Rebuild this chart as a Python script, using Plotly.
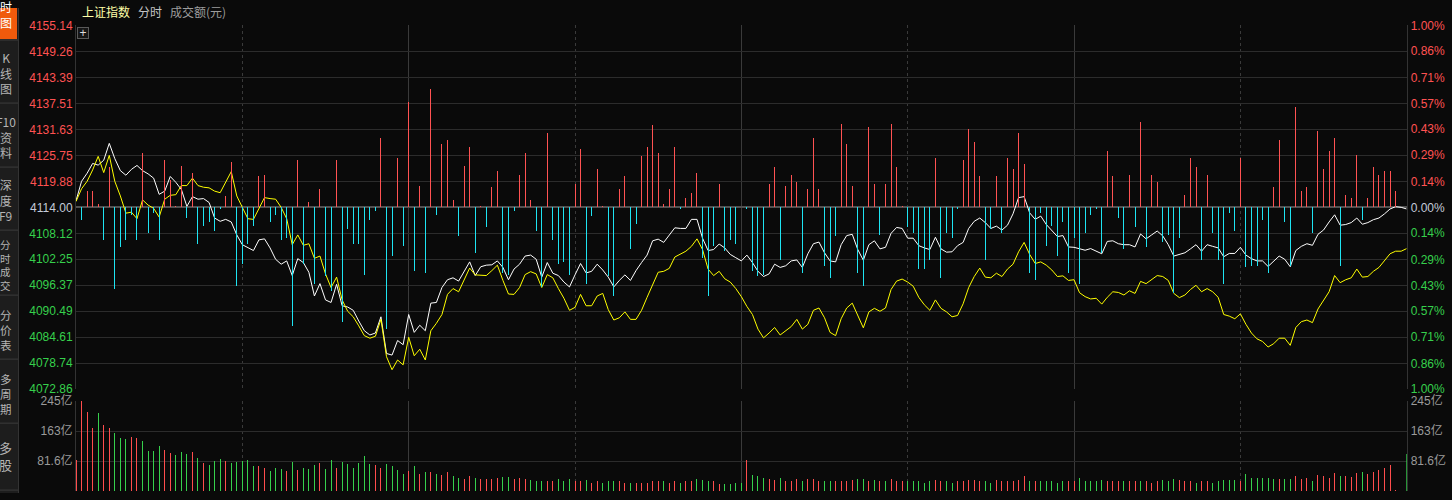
import plotly.graph_objects as go

# ---------------- data ----------------
minutes = list(range(241))          # 9:30 ... 11:30/13:00 ... 15:00
prev_close = 4114.00

index_price = [
    4115.47, 4119.88, 4121.71, 4123.92, 4123.55, 4124.65, 4128.47, 4125.02, 4122.30, 4121.27,
    4122.59, 4123.48, 4122.30, 4121.57, 4120.61, 4116.94, 4117.67, 4120.98, 4119.66, 4118.04,
    4114.22, 4116.42, 4115.84, 4115.98, 4115.10, 4111.58, 4110.84, 4111.28, 4110.69, 4107.76,
    4105.55, 4104.82, 4104.23, 4106.65, 4106.87, 4104.82, 4102.25, 4101.14, 4101.88, 4098.57,
    4102.39, 4101.51, 4099.31, 4093.95, 4096.74, 4093.06, 4092.48, 4096.59, 4091.74, 4091.45,
    4090.71, 4088.29, 4086.09, 4085.13, 4085.57, 4089.24, 4080.94, 4080.58, 4083.88, 4082.93,
    4089.76, 4085.72, 4087.33, 4086.09, 4092.33, 4092.48, 4095.86, 4097.62, 4098.06, 4097.32,
    4099.53, 4101.66, 4098.57, 4100.56, 4100.92, 4101.00, 4101.88, 4100.41, 4097.62, 4100.04,
    4101.14, 4102.98, 4103.20, 4102.25, 4098.21, 4101.51, 4099.09, 4098.57, 4097.10, 4096.00,
    4098.72, 4101.29, 4099.16, 4099.53, 4101.14, 4099.82, 4098.21, 4096.00, 4097.47, 4098.72,
    4097.47, 4099.68, 4101.51, 4103.20, 4106.43, 4106.80, 4106.07, 4107.61, 4109.37, 4109.23,
    4109.23, 4111.28, 4111.28, 4107.02, 4104.23, 4104.45, 4105.70, 4104.82, 4103.35, 4102.61,
    4101.88, 4103.20, 4101.51, 4099.53, 4098.35, 4098.94, 4101.14, 4100.41, 4100.78, 4101.88,
    4102.10, 4100.41, 4103.50, 4105.77, 4106.14, 4103.72, 4101.88, 4101.66, 4105.55, 4107.61,
    4107.90, 4104.45, 4102.03, 4105.55, 4106.43, 4104.60, 4104.96, 4108.12, 4109.45, 4109.23,
    4107.02, 4107.02, 4105.33, 4104.82, 4104.45, 4107.24, 4104.60, 4103.86, 4103.94, 4105.33,
    4106.07, 4109.23, 4110.84, 4111.58, 4110.55, 4109.23, 4109.74, 4108.86, 4109.96, 4112.53,
    4116.20, 4116.42, 4112.75, 4111.28, 4112.02, 4110.11, 4108.71, 4107.39, 4107.61, 4105.04,
    4104.96, 4104.67, 4104.30, 4104.67, 4104.08, 4103.50, 4106.29, 4106.43, 4105.77, 4105.55,
    4105.55, 4105.04, 4107.98, 4106.87, 4107.76, 4108.64, 4107.54, 4105.55, 4102.98, 4103.35,
    4103.72, 4104.60, 4105.55, 4104.08, 4105.55, 4105.18, 4104.82, 4102.83, 4103.57, 4103.57,
    4104.96, 4103.20, 4102.39, 4101.88, 4101.88, 4100.63, 4101.88, 4102.98, 4102.25, 4100.56,
    4104.23, 4105.18, 4105.77, 4105.41, 4107.90, 4108.86, 4110.69, 4112.31, 4109.96, 4110.11,
    4110.55, 4111.58, 4110.18, 4110.55, 4111.21, 4111.58, 4112.53, 4113.63, 4114.15, 4114.00,
    4113.63,
]

avg_price = [
    4115.32, 4118.19, 4119.88, 4122.45, 4125.53, 4121.86, 4125.75, 4119.88, 4116.57, 4112.68,
    4112.90, 4111.43, 4115.69, 4114.51, 4113.78, 4111.80, 4115.84, 4116.72, 4116.86, 4118.92,
    4118.92, 4120.61, 4118.92, 4118.55, 4118.41, 4117.67, 4117.31, 4119.88, 4122.08, 4116.57,
    4114.00, 4111.43, 4111.28, 4113.78, 4116.20, 4115.98, 4115.84, 4114.00, 4111.43, 4105.55,
    4107.76, 4105.41, 4105.77, 4102.47, 4102.98, 4098.94, 4095.86, 4098.21, 4093.06, 4090.49,
    4089.24, 4087.19, 4084.98, 4084.40, 4084.84, 4088.66, 4080.21, 4077.27, 4079.47, 4078.37,
    4084.62, 4080.43, 4081.90, 4079.47, 4086.09, 4087.77, 4089.76, 4094.31, 4095.63, 4094.90,
    4097.47, 4100.26, 4098.72, 4098.72, 4098.57, 4099.68, 4100.92, 4097.47, 4094.39, 4094.31,
    4095.86, 4098.79, 4099.45, 4098.94, 4095.86, 4098.79, 4098.06, 4095.63, 4093.43, 4090.71,
    4091.37, 4094.31, 4091.74, 4091.74, 4093.95, 4094.53, 4090.86, 4088.51, 4089.02, 4090.35,
    4088.66, 4088.66, 4090.71, 4093.65, 4096.59, 4099.31, 4099.53, 4100.19, 4102.76, 4103.50,
    4104.08, 4105.18, 4106.87, 4104.45, 4100.04, 4098.57, 4099.53, 4097.84, 4097.10, 4095.63,
    4093.80, 4091.59, 4089.76, 4086.45, 4084.47, 4085.57, 4086.82, 4085.13, 4086.09, 4087.04,
    4088.66, 4086.45, 4087.55, 4090.71, 4091.23, 4089.02, 4085.72, 4084.98, 4088.80, 4091.23,
    4092.33, 4089.39, 4086.75, 4090.35, 4091.15, 4090.49, 4091.23, 4095.41, 4097.32, 4097.77,
    4097.10, 4096.15, 4093.65, 4091.96, 4090.71, 4093.06, 4091.15, 4090.35, 4089.24, 4089.54,
    4092.18, 4095.86, 4098.35, 4100.26, 4098.21, 4098.06, 4099.09, 4098.35, 4100.04, 4101.14,
    4103.94, 4106.07, 4103.35, 4101.29, 4101.66, 4100.92, 4099.82, 4098.35, 4098.50, 4097.47,
    4097.62, 4094.68, 4093.80, 4093.28, 4093.43, 4092.11, 4093.65, 4094.90, 4094.75, 4094.17,
    4095.12, 4094.53, 4097.25, 4096.74, 4097.62, 4098.57, 4098.35, 4097.47, 4094.53, 4093.58,
    4094.17, 4095.41, 4096.37, 4094.90, 4095.63, 4094.90, 4093.65, 4089.76, 4089.39, 4088.80,
    4089.91, 4087.55, 4085.57, 4084.25, 4083.66, 4082.41, 4083.15, 4084.40, 4084.40, 4082.78,
    4086.82, 4088.14, 4088.51, 4087.92, 4091.01, 4092.92, 4094.90, 4098.57, 4096.96, 4097.62,
    4098.06, 4100.04, 4098.21, 4098.35, 4099.53, 4100.41, 4101.88, 4103.50, 4104.08, 4104.08,
    4104.67,
]

# buy/sell strength per minute (relative units, + = red, - = cyan)
strength = [
    0, -7, 9, 9, 2, -18, 22, -45, -22, -18,
    -4, -18, 30, -14, -3, -18, 26, 15, 1, 23,
    -6, 19, -20, -10, -8, -13, -1, 6, 25, -43,
    -31, -20, -10, 17, 18, -8, -4, -18, -17, -65,
    26, -31, 3, -42, 10, -38, -46, 26, -63, -12,
    -20, -20, -37, -7, -2, 38, -67, -27, 27, -21,
    58, -35, 12, -36, 65, -4, 35, 37, 4, -16,
    23, 33, -25, 1, -11, 11, 20, -36, -37, -2,
    18, 30, 4, -13, -44, 41, -18, -31, -30, -37,
    13, 32, -42, -5, 21, 1, -38, -49, 10, 17,
    -23, -9, 28, 33, 45, 30, 2, 10, 33, -1,
    5, 8, 19, -28, -49, -21, 13, -24, -18, -20,
    0, -1, -35, -38, -37, 13, 22, -29, 12, 18,
    14, -36, 10, 38, 10, -32, -39, -16, 46, 35,
    12, -36, -43, 44, 13, -15, 13, 46, 22, 1,
    -11, -14, -34, -34, -29, 27, -39, -14, -17, -1,
    26, 43, 36, 17, -29, -12, 17, -14, 27, 21,
    41, 24, -36, -40, -3, -21, -10, -27, -8, -36,
    -17, -42, -14, -4, -1, -25, 31, 17, -6, -23,
    18, -11, 47, -22, 18, 14, -19, -15, -47, -17,
    7, 27, 22, -29, 18, -14, -29, -42, -3, -13,
    27, -33, -32, -32, -7, -36, 11, 37, -8, -32,
    55, 9, 11, -14, 42, 21, 31, 38, -32, 7,
    5, 29, -7, 5, 22, 18, 20, 20, 9, 0,
    0,
]

# turnover per minute, 亿元
volume = [
    84, 244, 215, 172, 212, 180, 172, 159, 144, 141,
    148, 144, 137, 108, 108, 122, 111, 103, 98, 106,
    100, 106, 90, 76, 71, 82, 87, 82, 76, 79,
    82, 84, 68, 68, 63, 55, 63, 60, 55, 79,
    58, 63, 60, 71, 76, 60, 84, 63, 79, 74,
    63, 76, 95, 74, 71, 63, 74, 68, 58, 47,
    55, 68, 47, 52, 52, 47, 44, 52, 42, 36,
    34, 42, 36, 34, 34, 34, 36, 39, 39, 34,
    36, 34, 31, 26, 28, 28, 28, 34, 28, 34,
    28, 28, 31, 23, 26, 23, 28, 28, 26, 23,
    23, 23, 23, 23, 26, 28, 26, 23, 26, 23,
    28, 28, 34, 31, 28, 28, 20, 18, 20, 23,
    23, 84, 44, 42, 35, 33, 31, 35, 28, 28,
    33, 28, 33, 33, 26, 28, 28, 26, 28, 28,
    31, 33, 33, 28, 31, 26, 28, 33, 28, 28,
    28, 28, 26, 23, 26, 31, 28, 26, 23, 26,
    28, 31, 31, 28, 26, 23, 31, 28, 28, 28,
    31, 42, 28, 26, 26, 26, 26, 23, 26, 26,
    26, 36, 28, 28, 26, 31, 28, 28, 26, 26,
    28, 26, 28, 28, 23, 26, 31, 28, 34, 31,
    28, 28, 23, 26, 26, 23, 26, 31, 31, 31,
    28, 47, 36, 36, 36, 36, 34, 34, 34, 34,
    42, 34, 36, 28, 44, 42, 36, 50, 42, 42,
    39, 50, 52, 47, 52, 58, 63, 71, 2, 0,
    102,
]

# 1 = price up in that minute (red), -1 = down (green)
vol_dir = [
    1, 1, 1, 1, -1, 1, 1, -1, -1, -1,
    1, 1, -1, -1, -1, -1, 1, 1, -1, -1,
    -1, 1, -1, 1, -1, -1, -1, 1, -1, -1,
    -1, -1, -1, 1, 1, -1, -1, -1, 1, -1,
    1, -1, -1, -1, 1, -1, -1, 1, -1, -1,
    -1, -1, -1, -1, 1, 1, -1, -1, -1, -1,
    1, -1, 1, -1, 1, -1, 1, 1, -1, -1,
    1, 1, -1, 1, 1, 1, 1, -1, -1, 1,
    1, 1, -1, -1, -1, 1, 1, -1, -1, -1,
    1, 1, -1, 1, 1, -1, -1, -1, 1, 1,
    -1, 1, 1, 1, 1, 1, -1, 1, 1, -1,
    1, 1, -1, -1, -1, 1, 1, -1, -1, -1,
    -1, 1, -1, -1, -1, 1, 1, -1, 1, 1,
    1, -1, 1, 1, 1, -1, -1, 1, 1, 1,
    1, -1, -1, 1, -1, 1, -1, 1, 1, 1,
    -1, -1, -1, -1, -1, 1, 1, -1, -1, 1,
    1, 1, 1, 1, -1, -1, 1, 1, 1, 1,
    1, 1, -1, 1, -1, -1, -1, -1, -1, 1,
    1, -1, -1, -1, -1, -1, 1, 1, 1, -1,
    1, 1, -1, 1, 1, 1, -1, -1, -1, 1,
    1, 1, -1, 1, 1, -1, -1, -1, -1, -1,
    1, -1, -1, -1, -1, -1, -1, 1, -1, -1,
    1, 1, 1, -1, 1, 1, 1, 1, -1, 1,
    1, 1, -1, 1, 1, 1, 1, 1, 1, -1,
    -1,
]

price_ticks = [4072.86, 4078.74, 4084.61, 4090.49, 4096.37, 4102.25, 4108.12, 4114.00,
               4119.88, 4125.75, 4131.63, 4137.51, 4143.39, 4149.26, 4155.14]
pct_ticks = [-1.00, -0.86, -0.71, -0.57, -0.43, -0.29, -0.14, 0.00,
             0.14, 0.29, 0.43, 0.57, 0.71, 0.86, 1.00]
vol_ticks = [81.6, 163, 245]
vol_tick_labels = ["81.6亿", "163亿", "245亿"]
time_major = [60, 120, 180]
time_minor = [30, 90, 150, 210]

# ---------------- style ----------------
W, H = 1452, 500
BG = "#0a0a0a"
GRID = "#2c2c2c"
RED = "#ff5252"
GREEN = "#36d04c"
CYAN = "#1ee4f2"
NUMFONT = "Liberation Sans, Arial, Noto Sans CJK SC"
CJK = "Noto Sans CJK SC"


def px(x):
    return x / W


def py(y):
    return 1 - y / H


X0, X1 = 76, 1406.7
price_dom = [py(393), py(18)]
vol_dom = [py(498), py(405)]
BARW = (minutes[-1] - minutes[0]) / (X1 - X0)   # one pixel in minutes


def tick_color(v, ref):
    if abs(v - ref) < 1e-9:
        return "#c4cad8"
    return RED if v > ref else GREEN


price_text = ['<span style="color:%s">%.2f</span>' % (tick_color(v, prev_close), v) for v in price_ticks]
pct_text = ['<span style="color:%s">%.2f%%</span>' % (tick_color(v, 0), abs(v)) for v in pct_ticks]
pct_range = [(price_ticks[0] / prev_close - 1) * 100, (price_ticks[-1] / prev_close - 1) * 100]

fig = go.Figure()

# strength bars around the previous-close line
s_y = [v if v != 0 else None for v in strength]
s_col = [RED if v > 0 else CYAN for v in strength]
fig.add_trace(go.Bar(x=minutes, y=s_y, width=BARW, marker=dict(color=s_col, line=dict(width=0)),
                     xaxis="x", yaxis="y3", hoverinfo="skip"))

# price lines
fig.add_trace(go.Scatter(x=minutes, y=index_price, mode="lines",
                         line=dict(color="#ffffff", width=1), xaxis="x", yaxis="y", hoverinfo="skip"))
fig.add_trace(go.Scatter(x=minutes, y=avg_price, mode="lines",
                         line=dict(color="#ffff00", width=1), xaxis="x", yaxis="y", hoverinfo="skip"))
# percent axis carrier
fig.add_trace(go.Scatter(x=[minutes[0]], y=[0], mode="markers", marker=dict(opacity=0),
                         xaxis="x", yaxis="y2", hoverinfo="skip"))

# volume
v_col = ["#ff4d4d" if d > 0 else GREEN for d in vol_dir]
v_y = [v if v != 0 else None for v in volume]
fig.add_trace(go.Bar(x=minutes, y=v_y, width=BARW, marker=dict(color=v_col, line=dict(width=0)),
                     xaxis="x2", yaxis="y4", hoverinfo="skip"))
fig.add_trace(go.Scatter(x=[minutes[0]], y=[0], mode="markers", marker=dict(opacity=0),
                         xaxis="x2", yaxis="y5", hoverinfo="skip"))

common_x = dict(range=[minutes[0], minutes[-1]], showticklabels=False, tickmode="array",
                tickvals=time_major, showgrid=True, gridcolor="#3a3a3a", gridwidth=1,
                zeroline=False, showline=False, ticks="",
                minor=dict(tickmode="array", tickvals=time_minor, showgrid=True,
                           griddash="dot", gridcolor="#3a3a3a", gridwidth=1, ticks=""),
                domain=[px(X0), px(X1)], fixedrange=True)

fig.update_layout(
    width=W, height=H,
    paper_bgcolor=BG, plot_bgcolor=BG,
    margin=dict(l=0, r=0, t=0, b=0),
    showlegend=False, hovermode=False, bargap=0, barmode="overlay",
    xaxis=dict(anchor="y", **common_x),
    xaxis2=dict(anchor="y4", **common_x),
    yaxis=dict(domain=price_dom, range=[price_ticks[0], price_ticks[-1]], tickmode="array",
               tickvals=price_ticks, ticktext=price_text, showgrid=True, gridcolor=GRID,
               zeroline=False, showline=True, mirror=True, linecolor="#333333", ticks="",
               ticklabelstandoff=0, tickfont=dict(family=NUMFONT, size=12), fixedrange=True),
    yaxis2=dict(overlaying="y", side="right", anchor="x", range=pct_range, tickmode="array",
                tickvals=pct_ticks, ticktext=pct_text, showgrid=False, zeroline=False,
                showline=False, ticks="", ticklabelstandoff=3,
                tickfont=dict(family=NUMFONT, size=12), fixedrange=True),
    yaxis3=dict(overlaying="y", anchor="x", range=[-100, 100], showticklabels=False,
                showgrid=False, zeroline=True, zerolinecolor="#505050", zerolinewidth=2,
                showline=False, ticks="", fixedrange=True),
    yaxis4=dict(domain=vol_dom, anchor="x2", range=[0, vol_ticks[-1]], tickmode="array",
                tickvals=vol_ticks, ticktext=vol_tick_labels, showgrid=True, gridcolor=GRID,
                zeroline=False, showline=True, mirror=True, linecolor="#333333", ticks="",
                ticklabelstandoff=0, tickfont=dict(family=NUMFONT, size=12, color="#9a9a9a"),
                fixedrange=True),
    yaxis5=dict(overlaying="y4", side="right", anchor="x2", range=[0, vol_ticks[-1]],
                tickmode="array", tickvals=vol_ticks, ticktext=vol_tick_labels, showgrid=False,
                zeroline=False, showline=False, ticks="", ticklabelstandoff=3,
                tickfont=dict(family=NUMFONT, size=12, color="#9a9a9a"), fixedrange=True),
)

# ---------------- left side menu ----------------
SBW = 18
shapes = [
    dict(type="rect", xref="paper", yref="paper", x0=0, x1=px(SBW), y0=0, y1=1,
         fillcolor="#1d1d1d", line=dict(width=0), layer="below"),
    dict(type="rect", xref="paper", yref="paper", x0=0, x1=px(17), y0=py(32), y1=1,
         fillcolor="#f05a0c", line=dict(width=0), layer="below"),
    dict(type="line", xref="paper", yref="paper", x0=px(SBW + 0.5), x1=px(SBW + 0.5), y0=0, y1=1,
         line=dict(color="#333333", width=1)),
]
for sy in [33, 98, 164, 229, 296, 362, 428, 497]:
    shapes.append(dict(type="line", xref="paper", yref="paper", x0=0, x1=px(SBW),
                       y0=py(sy), y1=py(sy), line=dict(color="#3c3c3c", width=1)))

menu = [
    ("时<br>图", 6.5, 12, "#ffffff"),
    ("K<br>线<br>图", 66.5, 12, "#b4b4b4"),
    ("F10<br>资<br>料", 132.5, 12, "#b4b4b4"),
    ("深<br>度<br>F9", 197.5, 12, "#b4b4b4"),
    ("分<br>时<br>成<br>交", 264.5, 10.5, "#b4b4b4"),
    ("分<br>价<br>表", 331.5, 11.5, "#b4b4b4"),
    ("多<br>周<br>期", 397.5, 11.5, "#b4b4b4"),
    ("多<br>股", 462, 13, "#b4b4b4"),
]
annotations = []
for txt, yy, fs, col in menu:
    annotations.append(dict(x=px(5.5), y=py(yy), xref="paper", yref="paper", text=txt,
                            showarrow=False, xanchor="center", yanchor="middle", align="center",
                            font=dict(family=CJK, size=fs, color=col)))

# ---------------- header ----------------
header = [("上证指数", 80, "#ffffa8"), ("分时", 136, "#c4c4c4"), ("成交额(元)", 168, "#9c9c9c")]
for txt, hx, col in header:
    annotations.append(dict(x=px(hx), y=py(3.5), xref="paper", yref="paper", text=txt,
                            showarrow=False, xanchor="left", yanchor="middle",
                            font=dict(family=CJK, size=12, color=col)))
annotations.append(dict(x=px(82.5), y=py(26), xref="paper", yref="paper", text="+",
                        showarrow=False, xanchor="center", yanchor="middle",
                        font=dict(family=NUMFONT, size=12, color="#dddddd"),
                        bordercolor="#5a5a5a", borderwidth=1, borderpad=0, bgcolor="#161616",
                        width=10, height=10))

fig.update_layout(shapes=shapes, annotations=annotations)

fig.write_html("out.html", config={"displayModeBar": False, "staticPlot": True},
               post_script="document.body.style.margin='0';document.body.style.padding='0';"
                           "document.body.style.overflow='hidden';"
                           "document.body.style.background='#0a0a0a';")
